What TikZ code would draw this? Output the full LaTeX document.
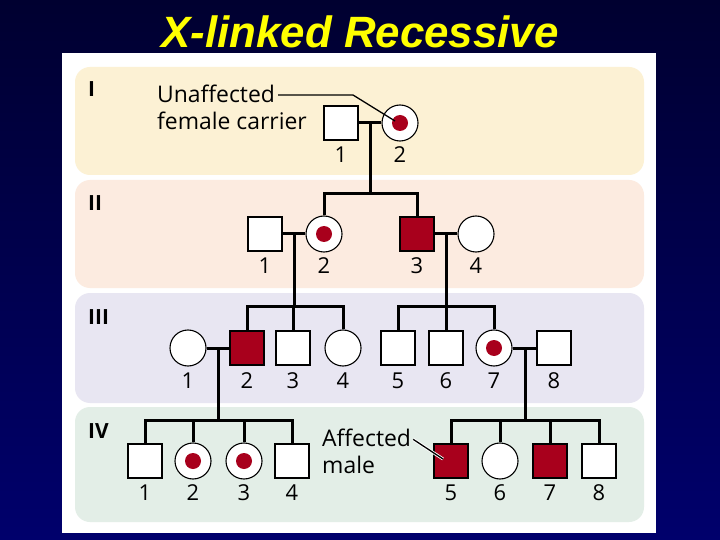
\documentclass[tikz,border=0pt]{standalone}
\usepackage{fontspec}
\setmainfont{Open Sans}
\newfontfamily\titlefont{Liberation Sans}
\usepackage{tikz}
\usetikzlibrary{positioning}

\definecolor{bgtop}{HTML}{000030}
\definecolor{bgbot}{HTML}{00006C}
\definecolor{bandI}{HTML}{FCF1D4}
\definecolor{bandII}{HTML}{FCEBE0}
\definecolor{bandIII}{HTML}{E8E6F2}
\definecolor{bandIV}{HTML}{E3EEE7}
\definecolor{affred}{HTML}{A8001C}
\definecolor{titleyellow}{HTML}{FFFF00}

\begin{document}
\begin{tikzpicture}[
    x=1bp, y=-1bp,
    person/.style={draw, fill=white, inner sep=0pt, line width=1.1bp},
    male/.style={person, rectangle, minimum size=34bp},
    female/.style={person, circle, minimum size=36bp},
    affected/.style={male, fill=affred},
    carrier/.style={female, path picture={\fill[affred] (path picture bounding box.center) circle (8bp);}},
    num/.style={font=\fontsize{22}{22}\selectfont, inner sep=0pt},
    note/.style={font=\fontsize{23}{27}\selectfont, inner sep=0pt, anchor=base west},
    gen/.style={font=\fontsize{21}{21}\selectfont\bfseries, inner sep=0pt, anchor=west},
    band/.style={rounded corners=15bp},
    line/.style={line width=3bp},
    pointer/.style={line width=1.3bp, preaction={draw=white, line width=3bp}}
]
\useasboundingbox (0,0) rectangle (720,540);

% slide background, panel and generation bands
\shade[top color=bgtop, bottom color=bgbot] (0,0) rectangle (720,540);
\fill[white] (62,53) rectangle (656,533);
\fill[bandI, band] (75,67) rectangle (644,175);
\fill[bandII, band] (75,180) rectangle (644,288);
\fill[bandIII, band] (75,293) rectangle (644,403);
\fill[bandIV, band] (75,407) rectangle (644,522);

\node[font=\titlefont\fontsize{44}{44}\selectfont\bfseries\itshape, text=titleyellow] (title) at (360,32) {X-linked Recessive};

\node[gen] (genI) at (88,89) {I};
\node[gen] (genII) at (88,203) {II};
\node[gen] (genIII) at (88,317) {III};
\node[gen] (genIV) at (88,431) {IV};

% individuals
\foreach \n/\x/\s in {1/341/male, 2/400/carrier}{
  \node[\s] (I\n) at (\x,123) {};
  \node[num] (I\n-no) at (\x,155) {\n};
}
\foreach \n/\x/\s in {1/265/male, 2/324/carrier, 3/417/affected, 4/476/female}{
  \node[\s] (II\n) at (\x,234) {};
  \node[num] (II\n-no) at (\x,266) {\n};
}
\foreach \n/\x/\s in {1/188/female, 2/247/affected, 3/293/male, 4/343/female,
                      5/398/male, 6/446/male, 7/494/carrier, 8/554/male}{
  \node[\s] (III\n) at (\x,348) {};
  \node[num] (III\n-no) at (\x,381) {\n};
}
\foreach \n/\x/\s in {1/145/male, 2/193/carrier, 3/244/carrier, 4/292/male,
                      5/451/affected, 6/500/female, 7/550/affected, 8/599/male}{
  \node[\s] (IV\n) at (\x,461) {};
  \node[num] (IV\n-no) at (\x,493) {\n};
}

% matings and descent lines
\coordinate (mI) at (370,123);
\coordinate (sII) at (370,194);
\draw[line] (I1.east) -- (I2.west);
\draw[line] (mI) -- (sII);
\draw[line] (II2.north) |- (sII) -| (II3.north);

\coordinate (mIIa) at (294,234);
\coordinate (sIIIa) at (294,306);
\draw[line] (II1.east) -- (II2.west);
\draw[line] (mIIa) -- (sIIIa);
\draw[line] (III2.north) |- (sIIIa) -| (III4.north);
\draw[line] (III3.north) -- (III3.north |- sIIIa);

\coordinate (mIIb) at (446,234);
\coordinate (sIIIb) at (446,306);
\draw[line] (II3.east) -- (II4.west);
\draw[line] (mIIb) -- (sIIIb);
\draw[line] (III5.north) |- (sIIIb) -| (III7.north);
\draw[line] (III6.north) -- (III6.north |- sIIIb);

\coordinate (mIIIa) at (218,348);
\coordinate (sIVa) at (218,420);
\draw[line] (III1.east) -- (III2.west);
\draw[line] (mIIIa) -- (sIVa);
\draw[line] (IV1.north) |- (sIVa) -| (IV4.north);
\draw[line] (IV2.north) -- (IV2.north |- sIVa);
\draw[line] (IV3.north) -- (IV3.north |- sIVa);

\coordinate (mIIIb) at (525,348);
\coordinate (sIVb) at (525,420);
\draw[line] (III7.east) -- (III8.west);
\draw[line] (mIIIb) -- (sIVb);
\draw[line] (IV5.north) |- (sIVb) -| (IV8.north);
\draw[line] (IV6.north) -- (IV6.north |- sIVb);
\draw[line] (IV7.north) -- (IV7.north |- sIVb);

% key labels
\node[note] (carrier-lbl) at (157,103) {Unaffected};
\node[note] (carrier-lbl2) at (157,130) {female carrier};
\node[note] (affected-lbl) at (322,446) {Affected};
\node[note] (affected-lbl2) at (322,473) {male};

\coordinate (carrier-bend) at (353,95);
\coordinate (carrier-tip) at (395,121);
\coordinate (affected-tip) at (443,459);
\draw[line width=1.3bp] ([xshift=3bp]carrier-lbl.east |- carrier-bend) -- (carrier-bend) -- (carrier-tip);
\draw[pointer] ([xshift=2bp,yshift=-2bp]affected-lbl.east) -- (affected-tip);

\end{tikzpicture}
\end{document}
